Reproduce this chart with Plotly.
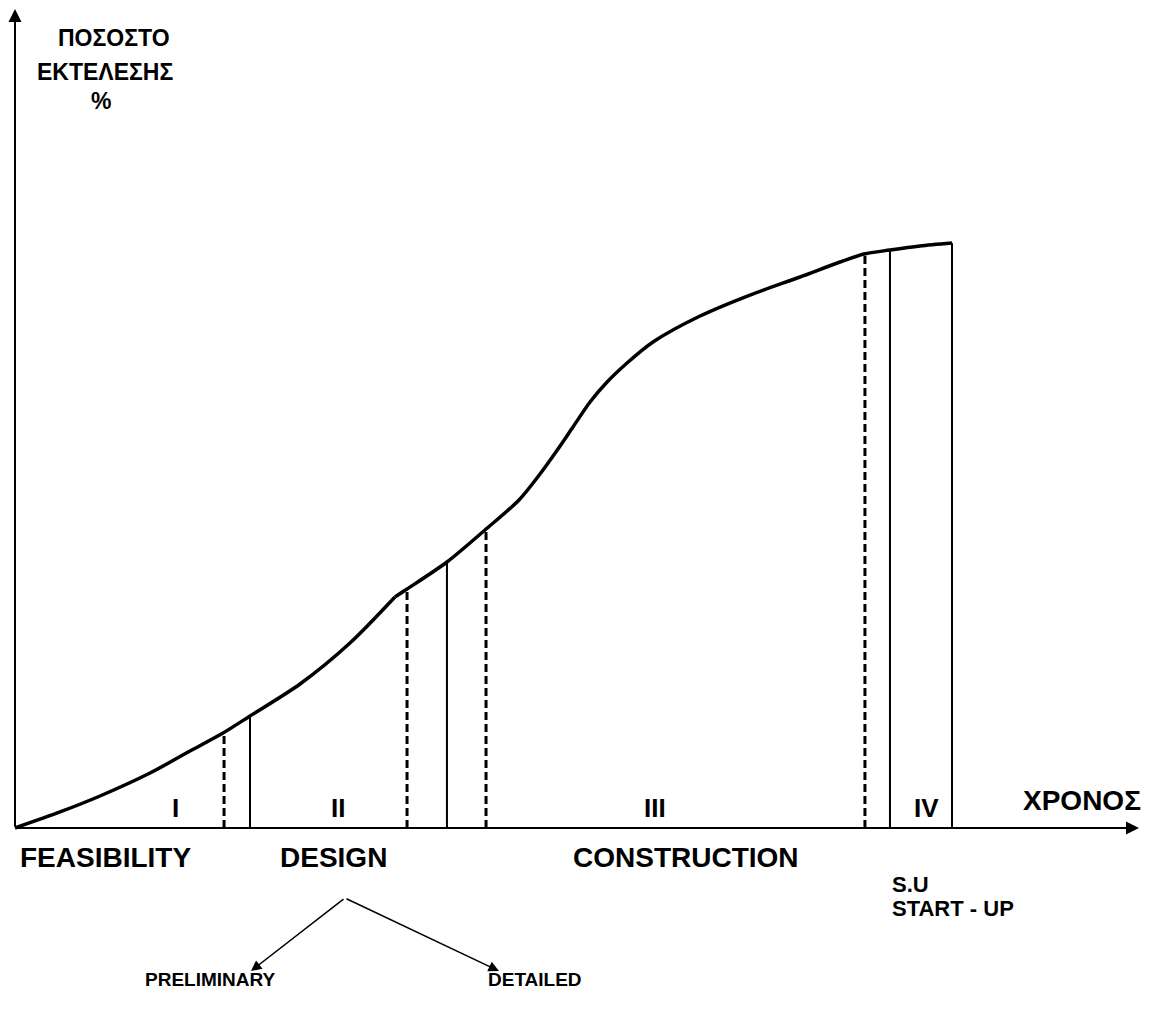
import plotly.graph_objects as go

# ---- data (time units, % completion) ----
curve1_t = [0, 4.80, 9.07, 14.41, 18.68, 22.20, 25.08, 30.42, 35.75, 40.55]
curve1_p = [0, 2.74, 5.47, 9.40, 13.16, 16.24, 19.15, 24.62, 31.62, 39.49]
curve2_t = [40.55, 41.84, 46.10, 50.16, 53.79, 56.03, 57.95, 59.55, 61.37, 63.19, 65.32,
            68.09, 73.11, 78.44, 83.78, 88.05, 90.61, 93.38, 96.58, 100]
curve2_p = [39.49, 40.85, 45.47, 50.94, 56.07, 60.51, 64.79, 68.55, 72.82, 76.24, 79.49,
            83.08, 87.52, 91.11, 94.19, 96.75, 98.12, 98.80, 99.49, 100]

solid_t = [25.08, 46.10, 93.38, 100]
solid_p = [19.15, 45.47, 98.80, 100]
dashed_t = [22.31, 41.84, 50.27, 90.71]
dashed_p = [16.20, 40.85, 50.80, 98.20]

phase_labels = ["I", "II", "III", "IV"]
phase_label_t = [17.18, 34.47, 68.30, 97.33]
stage_labels = ["FEASIBILITY", "DESIGN", "CONSTRUCTION"]
stage_label_t = [9.71, 33.94, 71.61]

FONT = "Liberation Sans"
BLACK = "#000000"

# page pixel -> data helpers for label placement (page has 8px body margin)
def T(px):
    return (px - 15) / 9.37

def P(py):
    return (828 - py) / 5.85

fig = go.Figure()

for ct, cp in [(curve1_t, curve1_p), (curve2_t, curve2_p)]:
    fig.add_trace(go.Scatter(x=ct, y=cp, mode="lines",
                             line=dict(color=BLACK, width=3.5, shape="spline", smoothing=0.8),
                             hoverinfo="skip"))

for t, p in zip(solid_t, solid_p):
    fig.add_trace(go.Scatter(x=[t, t], y=[0, p], mode="lines",
                             line=dict(color=BLACK, width=2), hoverinfo="skip"))
for t, p in zip(dashed_t, dashed_p):
    fig.add_trace(go.Scatter(x=[t, t], y=[0, p], mode="lines",
                             line=dict(color=BLACK, width=3, dash="8px,4px"), hoverinfo="skip"))

anns = []
# axes with arrows
anns.append(dict(x=0, y=P(9), ax=0, ay=0, xref="x", yref="y", axref="x", ayref="y",
                 text="", showarrow=True, arrowhead=2, arrowsize=1.3, arrowwidth=2,
                 arrowcolor=BLACK, standoff=0, startstandoff=0))
anns.append(dict(x=T(1139), y=0, ax=0, ay=0, xref="x", yref="y", axref="x", ayref="y",
                 text="", showarrow=True, arrowhead=2, arrowsize=1.3, arrowwidth=2,
                 arrowcolor=BLACK, standoff=0, startstandoff=0))

# design branch arrows
for tx in [T(251), T(499)]:
    anns.append(dict(x=tx, y=P(971), ax=T(345), ay=P(898), xref="x", yref="y",
                     axref="x", ayref="y", text="", showarrow=True, arrowhead=2,
                     arrowsize=1.4, arrowwidth=1.5, arrowcolor=BLACK, standoff=0))

def txt(x, y, s, size, xanchor="center"):
    anns.append(dict(x=x, y=y, xref="x", yref="y", text=s, showarrow=False,
                     xanchor=xanchor, yanchor="middle",
                     font=dict(family=FONT, size=size, color=BLACK)))

for lab, t in zip(phase_labels, phase_label_t):
    txt(t, P(808), "<b>%s</b>" % lab, 26)
for lab, t in zip(stage_labels, stage_label_t):
    txt(t, P(857), "<b>%s</b>" % lab, 28)

txt(T(1082), P(800), "<b>ΧΡΟΝΟΣ</b>", 28)
txt(T(890), P(884), "<b>S.U</b>", 22, xanchor="left")
txt(T(890), P(908), "<b>START - UP</b>", 22, xanchor="left")
txt(T(210), P(979), "<b>PRELIMINARY</b>", 19)
txt(T(535), P(979), "<b>DETAILED</b>", 19)

txt(T(114), P(38), "<b>ΠΟΣΟΣΤΟ</b>", 23)
txt(T(105), P(72), "<b>ΕΚΤΕΛΕΣΗΣ</b>", 23)
txt(T(101), P(101), "<b>%</b>", 23)

fig.update_layout(
    width=1135, height=997,
    margin=dict(l=0, r=0, t=0, b=0),
    paper_bgcolor="white", plot_bgcolor="white",
    showlegend=False,
    annotations=anns,
    xaxis=dict(range=[T(8), T(1143)], visible=False, fixedrange=True),
    yaxis=dict(range=[P(1005), P(8)], visible=False, fixedrange=True),
)

fig.write_html("out.html")
